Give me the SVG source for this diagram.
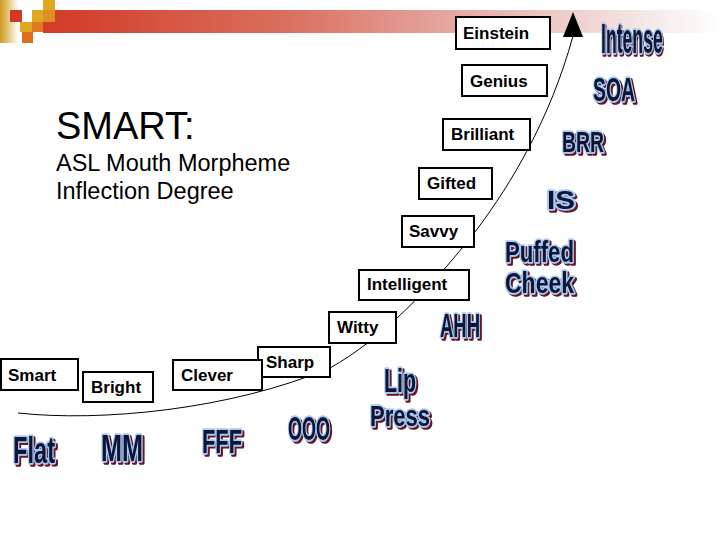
<svg xmlns="http://www.w3.org/2000/svg" width="720" height="540" viewBox="0 0 720 540">
<defs>
<linearGradient id="bar" x1="0" y1="0" x2="1" y2="0">
<stop offset="0" stop-color="#d23c28"/>
<stop offset="0.35" stop-color="#d9705f"/>
<stop offset="0.65" stop-color="#e8b4b0"/>
<stop offset="0.9" stop-color="#f6eaea"/>
<stop offset="1" stop-color="#ffffff"/>
</linearGradient>
<linearGradient id="gold" x1="0" y1="0" x2="1" y2="0">
<stop offset="0" stop-color="#d09a20"/>
<stop offset="0.4" stop-color="#e2bf70"/>
<stop offset="1" stop-color="#ffffff"/>
</linearGradient>
<filter id="sh" x="-20%" y="-20%" width="150%" height="160%">
<feOffset in="SourceAlpha" dx="2" dy="2" result="o"/>
<feFlood flood-color="#6a1224"/>
<feComposite in2="o" operator="in" result="s"/>
<feMerge><feMergeNode in="s"/><feMergeNode in="SourceGraphic"/></feMerge>
</filter>
<style>
.box{fill:#fff;stroke:#000;stroke-width:2}
.lbl{font-family:"Liberation Sans",Arial,sans-serif;font-weight:bold;font-size:17px;fill:#000}
.wa{font-family:"Liberation Sans",Arial,sans-serif;font-weight:bold;fill:#0b1535;stroke:#a9c9f2;stroke-width:3.5;paint-order:stroke;stroke-linejoin:round;filter:url(#sh)}
.title{font-family:"Liberation Sans",Arial,sans-serif;fill:#000}
</style>
</defs>
<rect width="720" height="540" fill="#fff"/>
<g id="decoration">
<rect x="0" y="0" width="18" height="43" fill="url(#gold)"/>
<rect x="55" y="10" width="665" height="23" fill="url(#bar)"/>
<rect x="43" y="22" width="12" height="11" fill="#d23c28"/>
<rect x="10" y="10" width="12" height="12" fill="#d03a20"/>
<rect x="43" y="0" width="12" height="10" fill="#dfa820"/>
<rect x="32" y="10" width="11" height="12" fill="#dfa820"/>
<rect x="43" y="10" width="12" height="12" fill="#dd8e20"/>
<rect x="20" y="22" width="12" height="10" fill="#dfa820"/>
<rect x="32" y="22" width="11" height="10" fill="#dd7a20"/>
<rect x="22" y="32" width="11" height="11" fill="#dc6e1e"/>
</g>
<g id="title">
<text class="title" x="56" y="139" font-size="38">SMART:</text>
<text class="title" x="56" y="171" font-size="23.5">ASL Mouth Morpheme</text>
<text class="title" x="56" y="199" font-size="23.5">Inflection Degree</text>
</g>
<g id="connectors">
<path d="M18,413 C100,422 230,410 330,368 C380,340 430,290 478,228 C510,185 550,120 573,36" fill="none" stroke="#000" stroke-width="1"/>
<polygon points="573,12 563,37 583,37" fill="#000"/>
</g>
<g id="n-einstein"><rect class="box" x="456" y="17" width="94" height="32"/><text class="lbl" x="463" y="39">Einstein</text></g>
<g id="n-genius"><rect class="box" x="462" y="65" width="85" height="31"/><text class="lbl" x="470" y="87">Genius</text></g>
<g id="n-brilliant"><rect class="box" x="443" y="119" width="87" height="31"/><text class="lbl" x="451" y="140">Brilliant</text></g>
<g id="n-gifted"><rect class="box" x="419" y="168" width="73" height="31"/><text class="lbl" x="427" y="189">Gifted</text></g>
<g id="n-savvy"><rect class="box" x="402" y="216" width="72" height="31"/><text class="lbl" x="409" y="237">Savvy</text></g>
<g id="n-intelligent"><rect class="box" x="359" y="270" width="110" height="30"/><text class="lbl" x="367" y="290">Intelligent</text></g>
<g id="n-witty"><rect class="box" x="329" y="312" width="67" height="31"/><text class="lbl" x="337" y="333">Witty</text></g>
<g id="n-sharp"><rect class="box" x="258" y="347" width="72" height="30"/><text class="lbl" x="266" y="368">Sharp</text></g>
<g id="n-clever"><rect class="box" x="173" y="360" width="89" height="30"/><text class="lbl" x="181" y="381">Clever</text></g>
<g id="n-bright"><rect class="box" x="83" y="372" width="70" height="30"/><text class="lbl" x="91" y="393">Bright</text></g>
<g id="n-smart"><rect class="box" x="1" y="359" width="77" height="31"/><text class="lbl" x="8" y="381">Smart</text></g>
<g id="mouth-morphemes">
<text class="wa" transform="translate(601,53) scale(0.42,1)" font-size="42">Intense</text>
<text class="wa" x="593" y="101" font-size="33" textLength="42" lengthAdjust="spacingAndGlyphs">SOA</text>
<text class="wa" x="562" y="152" font-size="30" textLength="42" lengthAdjust="spacingAndGlyphs">BRR</text>
<text class="wa" x="547" y="209" font-size="25" textLength="28" lengthAdjust="spacingAndGlyphs">IS</text>
<text class="wa" x="505" y="262" font-size="29" textLength="69" lengthAdjust="spacingAndGlyphs">Puffed</text>
<text class="wa" x="505" y="293" font-size="29" textLength="69" lengthAdjust="spacingAndGlyphs">Cheek</text>
<text class="wa" x="440" y="337" font-size="33" textLength="40" lengthAdjust="spacingAndGlyphs">AHH</text>
<text class="wa" x="384" y="392" font-size="34" textLength="32" lengthAdjust="spacingAndGlyphs">Lip</text>
<text class="wa" x="370" y="426" font-size="30" textLength="60" lengthAdjust="spacingAndGlyphs">Press</text>
<text class="wa" x="288" y="440" font-size="34" textLength="42" lengthAdjust="spacingAndGlyphs">OOO</text>
<text class="wa" x="202" y="453" font-size="34" textLength="40" lengthAdjust="spacingAndGlyphs">FFF</text>
<text class="wa" x="101" y="461" font-size="36" textLength="42" lengthAdjust="spacingAndGlyphs">MM</text>
<text class="wa" x="13" y="463" font-size="36" textLength="42" lengthAdjust="spacingAndGlyphs">Flat</text>
</g>
</svg>
